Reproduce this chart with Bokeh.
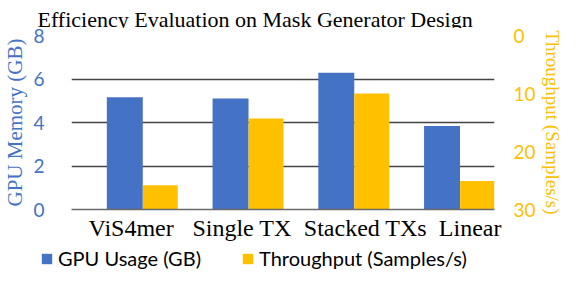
from bokeh.plotting import figure
from bokeh.models import (Range1d, LinearAxis, FixedTicker, ColumnDataSource,
                          Legend, LegendItem, Plot, VBar, Text, Column)
from bokeh.core.properties import value
from bokeh.embed import file_html
from bokeh.resources import INLINE

title_text = "Efficiency Evaluation on Mask Generator Design"
categories = ["ViS4mer", "Single TX", "Stacked TXs", "Linear"]
gpu_usage = [5.16, 5.10, 6.29, 3.84]
throughput = [25.8, 14.3, 10.0, 25.1]
left_ticks = [0, 2, 4, 6, 8]
right_ticks = [0, 10, 20, 30]
series_names = ["GPU Usage (GB)", "Throughput (Samples/s)"]

BLUE = "#4472C4"
YELLOW = "#FFC000"
W = 565

# layout constants (positions of bars / labels inside each category slot)
BLUE_OFF, BLUE_W = 0.504, 0.34
YEL_OFF, YEL_W = 0.84, 0.33
LABEL_OFF = [0.564, 0.613, 0.78, 0.77]   # category label nudges, as in the original

# ---- header with title ----
HDR_H = 28
hdr = Plot(width=W, height=HDR_H, x_range=Range1d(0, W), y_range=Range1d(HDR_H, 0),
           min_border=0, outline_line_color=None, toolbar_location=None, output_backend="svg")
hdr_src = ColumnDataSource(dict(x=[37], y=[19], t=[title_text]))
hdr.add_glyph(hdr_src, Text(x="x", y="y", text="t", text_font=value("Liberation Serif"),
                            text_font_size="22px", text_color="black",
                            text_baseline="alphabetic", text_align="left"))

# ---- main chart ----
idx = list(range(len(categories)))
src = ColumnDataSource(dict(
    xb=[i + BLUE_OFF for i in idx], xy=[i + YEL_OFF for i in idx],
    gpu=gpu_usage, thr=throughput, base=[30] * len(categories)))

p = figure(width=W, height=215, output_backend="svg", toolbar_location=None,
           x_range=Range1d(0, len(categories)), y_range=Range1d(0, 8),
           min_border_left=67, min_border_right=69, min_border_top=7, min_border_bottom=33)
p.extra_y_ranges = {"thr": Range1d(30, 0)}
p.outline_line_color = None

p.vbar(x="xb", top="gpu", width=BLUE_W, bottom=0, source=src, fill_color=BLUE, line_color=None)
p.vbar(x="xy", top="thr", bottom="base", width=YEL_W, source=src, fill_color=YELLOW,
       line_color=None, y_range_name="thr")

p.xgrid.visible = False
p.ygrid.ticker = FixedTicker(ticks=left_ticks)
p.ygrid.grid_line_color = "#444444"
p.ygrid.grid_line_width = 1.6

ya = p.yaxis[0]
ya.ticker = FixedTicker(ticks=left_ticks)
ya.axis_label = "GPU Memory (GB)"
ya.axis_label_text_font = "Liberation Serif"
ya.axis_label_text_font_size = "21px"
ya.axis_label_text_font_style = "normal"
ya.axis_label_text_color = BLUE
ya.axis_label_standoff = 3
ya.major_label_text_font = "Lato"
ya.major_label_text_font_size = "19px"
ya.major_label_text_color = BLUE
ya.major_label_standoff = 27
ya.axis_line_color = None
ya.major_tick_line_color = None
ya.minor_tick_line_color = None
ya.major_tick_out = 0
ya.major_tick_in = 0
ya.minor_tick_out = 0

ra = LinearAxis(y_range_name="thr", ticker=FixedTicker(ticks=right_ticks))
ra.axis_label = "Throughput (Samples/s)"
ra.axis_label_text_font = "Liberation Serif"
ra.axis_label_text_font_size = "19px"
ra.axis_label_text_font_style = "normal"
ra.axis_label_text_color = YELLOW
ra.axis_label_standoff = 3
ra.major_label_text_font = "Lato"
ra.major_label_text_font_size = "19px"
ra.major_label_text_color = YELLOW
ra.major_label_standoff = 19
ra.axis_line_color = None
ra.major_tick_line_color = None
ra.minor_tick_line_color = None
ra.major_tick_out = 0
ra.major_tick_in = 0
ra.minor_tick_out = 0
p.add_layout(ra, "right")

label_ticks = [i + off for i, off in zip(idx, LABEL_OFF)]
xa = p.xaxis[0]
xa.ticker = FixedTicker(ticks=label_ticks)
xa.major_label_overrides = {t: c for t, c in zip(label_ticks, categories)}
xa.major_label_text_font = "Liberation Serif"
xa.major_label_text_font_size = "24px"
xa.major_label_text_color = "black"
xa.major_label_standoff = 5
xa.axis_line_color = "#6a6a6a"
xa.axis_line_width = 1.6
xa.major_tick_line_color = None
xa.minor_tick_line_color = None
xa.major_tick_out = 0
xa.major_tick_in = 0
xa.minor_tick_out = 0

# ---- legend strip ----
lg = Plot(width=W, height=28, x_range=Range1d(0, 1), y_range=Range1d(0, 1),
          min_border=0, outline_line_color=None, toolbar_location=None, output_backend="svg")
dummy = ColumnDataSource(dict(x=[-5], top=[0]))
r1 = lg.add_glyph(dummy, VBar(x="x", top="top", width=0.1, fill_color=BLUE, line_color=None))
r2 = lg.add_glyph(dummy, VBar(x="x", top="top", width=0.1, fill_color=YELLOW, line_color=None))
legend = Legend(items=[LegendItem(label=series_names[0], renderers=[r1]),
                       LegendItem(label=series_names[1], renderers=[r2])],
                orientation="horizontal", location=(40, 1),
                label_text_font="Lato", label_text_font_size="20px", label_text_color="black",
                glyph_width=13, glyph_height=13, label_standoff=5, spacing=40,
                border_line_color=None, background_fill_alpha=0, padding=0, margin=0)
lg.add_layout(legend, "center")

layout = Column(children=[Column(children=[hdr]), Column(children=[p]), Column(children=[lg])],
                spacing=0)
open("out.html", "w").write(file_html(layout, INLINE))
